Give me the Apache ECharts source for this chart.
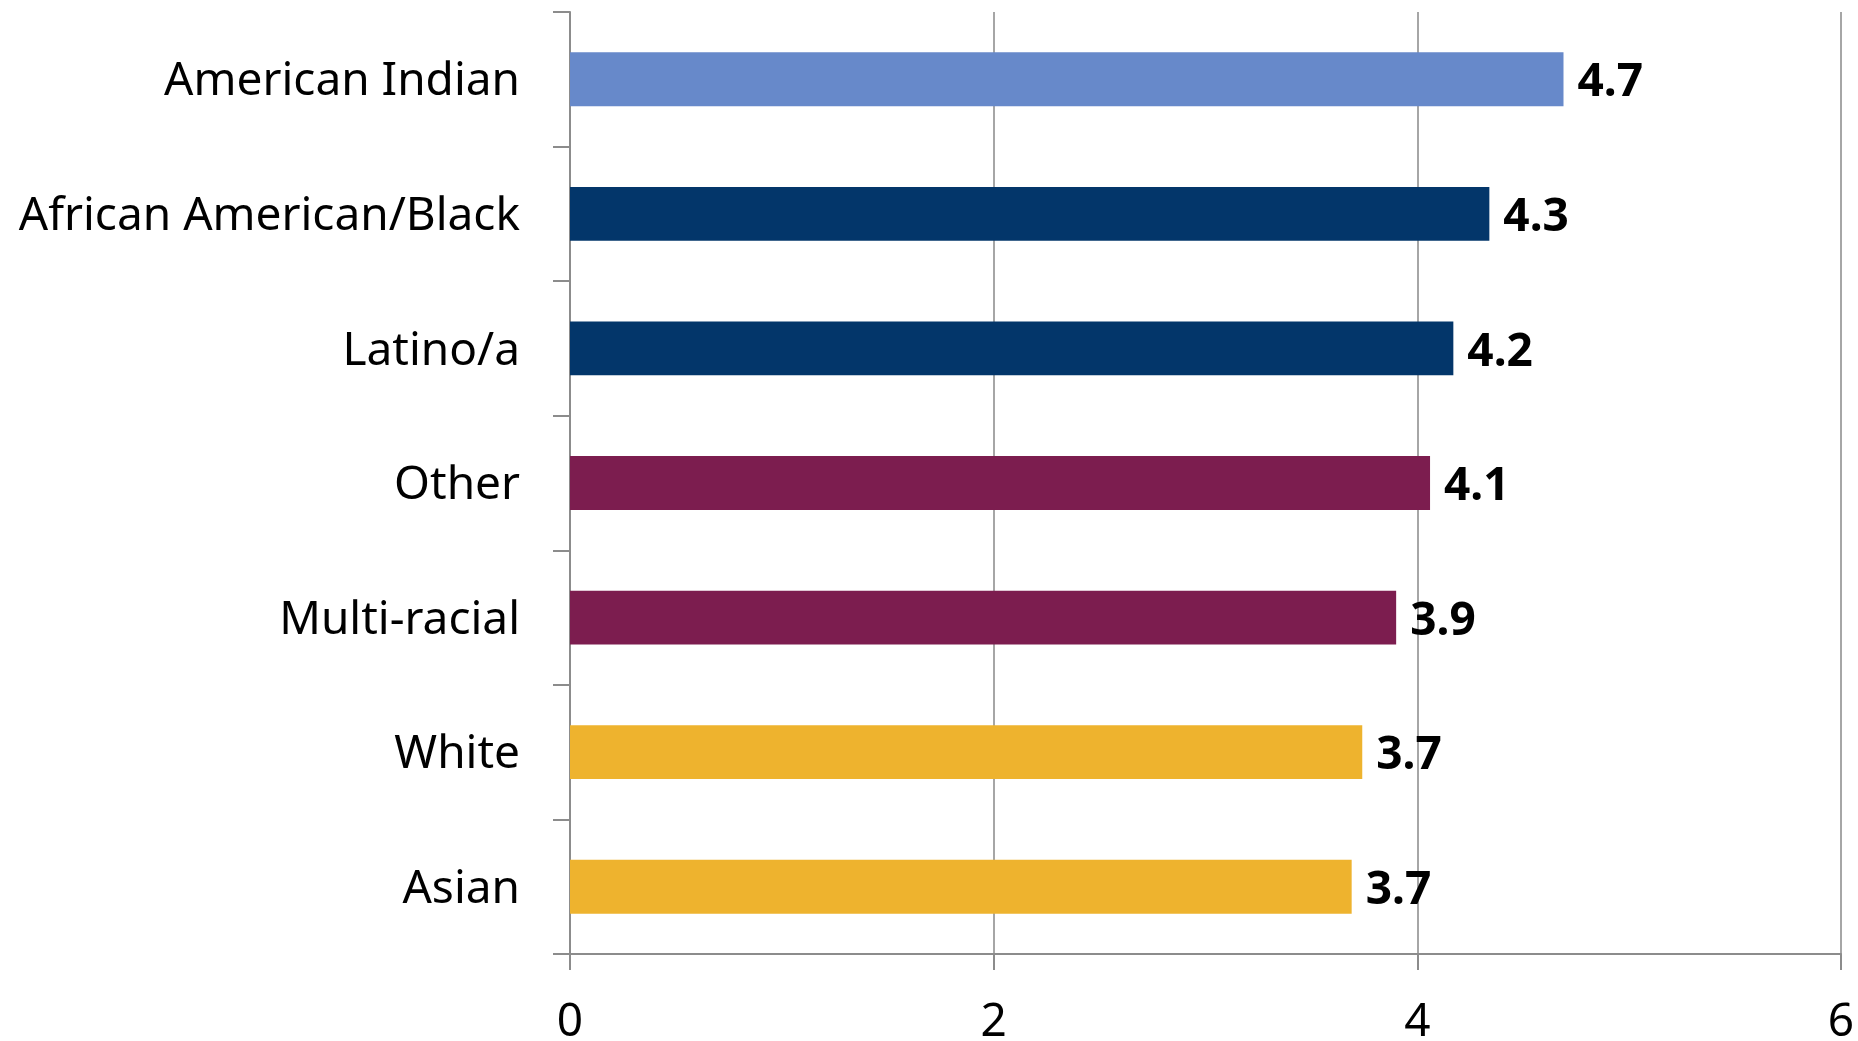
<!DOCTYPE html>
<html>
<head>
<meta charset="utf-8">
<script src="https://cdn.jsdelivr.net/npm/echarts@6/dist/echarts.min.js"></script>
<style>
  html, body { margin: 0; padding: 0; background: #fff; }
  #chart { width: 1858px; height: 1041px; }
</style>
</head>
<body>
<div id="chart"></div>
<script>
  // top to bottom
  var categories = ['American Indian', 'African American/Black', 'Latino/a', 'Other', 'Multi-racial', 'White', 'Asian'];
  var values = [4.69, 4.34, 4.17, 4.06, 3.90, 3.74, 3.69];
  var barColors = ['#6789ca', '#03366a', '#03366a', '#7c1d4f', '#7c1d4f', '#eeb32e', '#eeb32e'];
  var xTicks = [0, 2, 4, 6];

  var font = '"Noto Sans", "Open Sans", sans-serif';

  var chart = echarts.init(document.getElementById('chart'));
  chart.setOption({
    animation: false,
    backgroundColor: '#fff',
    grid: {left: 570, right: 17, top: 12, bottom: 87, containLabel: false, outerBoundsMode: 'none'},
    xAxis: {
      type: 'value',
      min: xTicks[0],
      max: xTicks[xTicks.length - 1],
      interval: 2,
      axisLine: {show: true, lineStyle: {color: '#8c8c8c', width: 2}},
      axisTick: {show: true, length: 16, lineStyle: {color: '#8c8c8c', width: 2}},
      axisLabel: {fontFamily: font, fontSize: 46, color: '#000', margin: 46},
      splitLine: {show: true, lineStyle: {color: '#a6a6a6', width: 2}}
    },
    yAxis: {
      type: 'category',
      inverse: true,
      data: categories,
      axisLine: {show: true, lineStyle: {color: '#8c8c8c', width: 2}},
      axisTick: {show: true, length: 17, lineStyle: {color: '#8c8c8c', width: 2}},
      axisLabel: {
        fontFamily: font, fontSize: 46, color: '#000', margin: 50,
        formatter: function (v) { return '{c|' + v + '}'; },
        rich: {c: {fontFamily: font, fontSize: 46, color: '#000', padding: [6, 0, 0, 0]}}
      },
      splitLine: {show: false}
    },
    series: [{
      type: 'bar',
      barCategoryGap: '60%',
      data: values.map(function (v, i) {
        return {value: v, itemStyle: {color: barColors[i]}};
      }),
      label: {
        show: true,
        position: 'right',
        distance: 14,
        offset: [0, 4],
        fontFamily: font,
        fontWeight: 'bold',
        fontSize: 46,
        color: '#000',
        formatter: function (p) { return p.value.toFixed(1); }
      }
    }]
  });
</script>
</body>
</html>
